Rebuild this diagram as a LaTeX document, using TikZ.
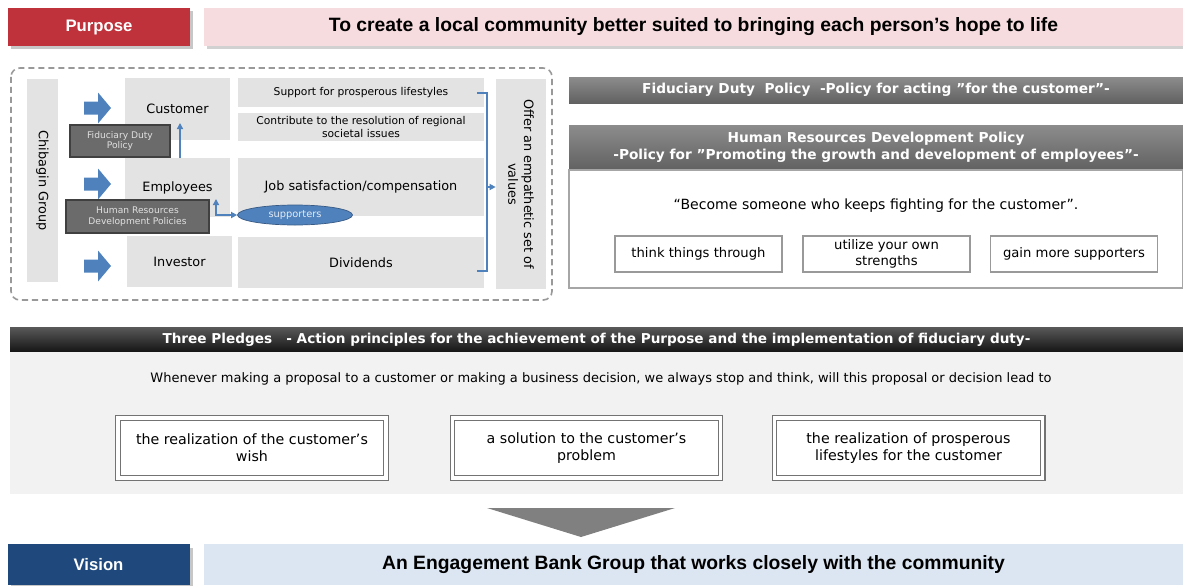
\documentclass[tikz,border=0pt]{standalone}
\usepackage{fontspec}
\usepackage{xcolor}
\setmainfont{DejaVu Sans}
\newfontfamily\arialfont{Liberation Sans}
\usetikzlibrary{shapes.geometric, arrows.meta}

\definecolor{purposered}{HTML}{C0323B}
\definecolor{purposepink}{HTML}{F6DCDF}
\definecolor{visionblue}{HTML}{1F497D}
\definecolor{visionsky}{HTML}{DCE6F2}
\definecolor{arrowblue}{HTML}{4F81BD}
\definecolor{cellgray}{HTML}{E3E3E3}
\definecolor{bargray}{HTML}{6B6B6B}
\definecolor{pledgeback}{HTML}{F2F2F2}
\newcommand{\fs}[2]{\fontsize{#1}{#2}\selectfont}

\tikzset{
  boxsize/.style 2 args={minimum width=#1*0.02cm, minimum height=#2*0.02cm, inner sep=0pt},
  cell/.style={fill=cellgray, align=center, font=\fs{7.3}{9}},
  smallcell/.style={cell, font=\fs{6.1}{7.3}},
  policytag/.style={fill=bargray, draw=black!75, line width=0.7pt, text=black!12, align=center, font=\fs{5.2}{6.2}},
  flow/.style={draw=arrowblue, line width=0.8pt, -{Triangle[length=3.5pt,width=3.5pt]}},
  banner/.style={text=white, font=\arialfont\bfseries\fs{9.5}{11}},
  bartext/.style={font=\arialfont\bfseries\fs{11}{13}},
  darkbar/.style={top color=black!45, bottom color=black!62, text=white, align=center, font=\bfseries\fs{7.8}{9.4}},
  optionbox/.style={draw=black!40, fill=white, line width=0.6pt, align=center, font=\fs{7.5}{8.8}},
  pledgebox/.style={draw=black!55, double=white, double distance=1.8pt, line width=0.8pt, fill=white, align=center, font=\fs{8.1}{9.6}},
  groupframe/.style={draw=black!40, line width=0.9pt, dash pattern=on 3.5pt off 2.2pt, rounded corners=5pt}
}

\begin{document}
\begin{tikzpicture}[x=0.02cm, y=-0.02cm]
  \useasboundingbox (0,0) rectangle (1183,585);

  % Purpose
  \fill[black!22] (11,11) rectangle (193,49);
  \fill[black!18] (207,11) rectangle (1183,49);
  \node[banner, fill=purposered, boxsize={182}{38}] (purpose) at (99,27) {Purpose};
  \node[bartext, fill=purposepink, boxsize={979}{38}] (purposetext) at (693.5,27) {To create a local community better suited to bringing each person’s hope to life};

  % Chibagin Group and stakeholders
  \draw[groupframe] (11,68) rectangle (552,300);
  \node[cell, boxsize={203}{31}, rotate=-90] (group) at (42.5,180.5) {Chibagin Group};
  \foreach \yy in {108,184,266}
    \fill[arrowblue] (84,\yy-6.5) -- ++(14,0) -- ++(0,-9) -- ++(13,15.5) -- ++(-13,15.5) -- ++(0,-9) -- ++(-14,0) -- cycle;

  \node[cell, boxsize={105}{62}] (cust) at (177.5,109) {Customer};
  \node[cell, boxsize={105}{59}] (emp) at (177.5,187.5) {Employees};
  \node[cell, boxsize={105}{51}] (inv) at (179.5,261.5) {Investor};

  \node[smallcell, boxsize={246}{29}] (support) at (361,92.5) {Support for prosperous lifestyles};
  \node[smallcell, boxsize={246}{28}] (contrib) at (361,127) {Contribute to the resolution of regional\\societal issues};
  \node[cell, boxsize={246}{58}] (job) at (361,187) {Job satisfaction/compensation};
  \node[cell, boxsize={246}{51}] (div) at (361,262.5) {Dividends};

  \node[cell, boxsize={210}{50}, rotate=-90] (offer) at (521,184) {Offer an empathetic set of\\values};

  % Policies
  \node[policytag, boxsize={100}{32}] (fdtag) at (120,141) {Fiduciary Duty\\Policy};
  \node[policytag, boxsize={143}{33}] (hrtag) at (137.5,216.5) {Human Resources\\Development Policies};
  \node[ellipse, fill=arrowblue, draw=arrowblue!70!black, boxsize={115}{20}, text=white!85!arrowblue, font=\fs{5.6}{6.6}] (sup) at (295,215) {supporters};

  \coordinate (custin) at (180,123);
  \coordinate (empin) at (216,199);
  \draw[flow] (emp.north -| custin) -- (custin);
  \draw[flow, {Triangle[length=3.5pt,width=3.5pt]}-{Triangle[length=3.5pt,width=3.5pt]}] (empin) |- (sup.west);

  \coordinate (brtop) at (477,93);
  \coordinate (brbot) at (477,271);
  \coordinate (brmid) at (487,187);
  \draw[draw=arrowblue, line width=0.8pt] (brtop) -- ++(10,0) |- (brbot);
  \draw[flow] (brmid) -- (brmid -| offer.south);

  % Fiduciary Duty / Human Resources Development Policy
  \node[darkbar, boxsize={614}{26}] (fdbar) at (876,90) {Fiduciary Duty\ \ Policy\ \ -Policy for acting \symbol{34}for the customer”-};
  \node[darkbar, boxsize={614}{45}] (hrbar) at (876,147.5) {Human Resources Development Policy\\-Policy for \symbol{34}Promoting the growth and development of employees”-};
  \draw[draw=black!35, fill=white, line width=0.6pt] (569,170) rectangle (1183,288);
  \node[font=\fs{8}{9.6}] (motto) at (876,206) {“Become someone who keeps fighting for the customer”.};
  \node[optionbox, boxsize={167}{36}] (opt1) at (698.5,254) {think things through};
  \node[optionbox, boxsize={167}{36}] (opt2) at (886.5,254) {utilize your own\\strengths};
  \node[optionbox, boxsize={167}{36}] (opt3) at (1074,254) {gain more supporters};

  % Three Pledges
  \node[darkbar, top color=black!65, bottom color=black!92, boxsize={1173}{25}, font=\bfseries\fs{7.75}{9}] (pledgehead) at (596.5,339.5) {Three Pledges\ \ \ - Action principles for the achievement of the Purpose and the implementation of fiduciary duty-};
  \fill[pledgeback] (10,352) rectangle (1183,494);
  \node[font=\fs{7.4}{8.8}] (whenever) at (601,379) {Whenever making a proposal to a customer or making a business decision, we always stop and think, will this proposal or decision lead to};
  \node[pledgebox, boxsize={268}{60}] (wish) at (252,448) {the realization of the customer\symbol{39}s\\wish};
  \node[pledgebox, boxsize={268}{60}] (problem) at (586.5,448) {a solution to the customer\symbol{39}s\\problem};
  \node[pledgebox, boxsize={268}{60}] (lifestyle) at (908.5,448) {the realization of prosperous\\lifestyles for the customer};

  % Vision
  \fill[black!50] (487,508) -- (675,508) -- (581,537) -- cycle;
  \fill[black!22] (11,548) rectangle (193,588);
  \node[banner, fill=visionblue, boxsize={182}{41}] (vision) at (98.5,564.5) {Vision};
  \node[bartext, fill=visionsky, boxsize={979}{41}] (visiontext) at (693.5,564.5) {An Engagement Bank Group that works closely with the community};

\end{tikzpicture}
\end{document}
